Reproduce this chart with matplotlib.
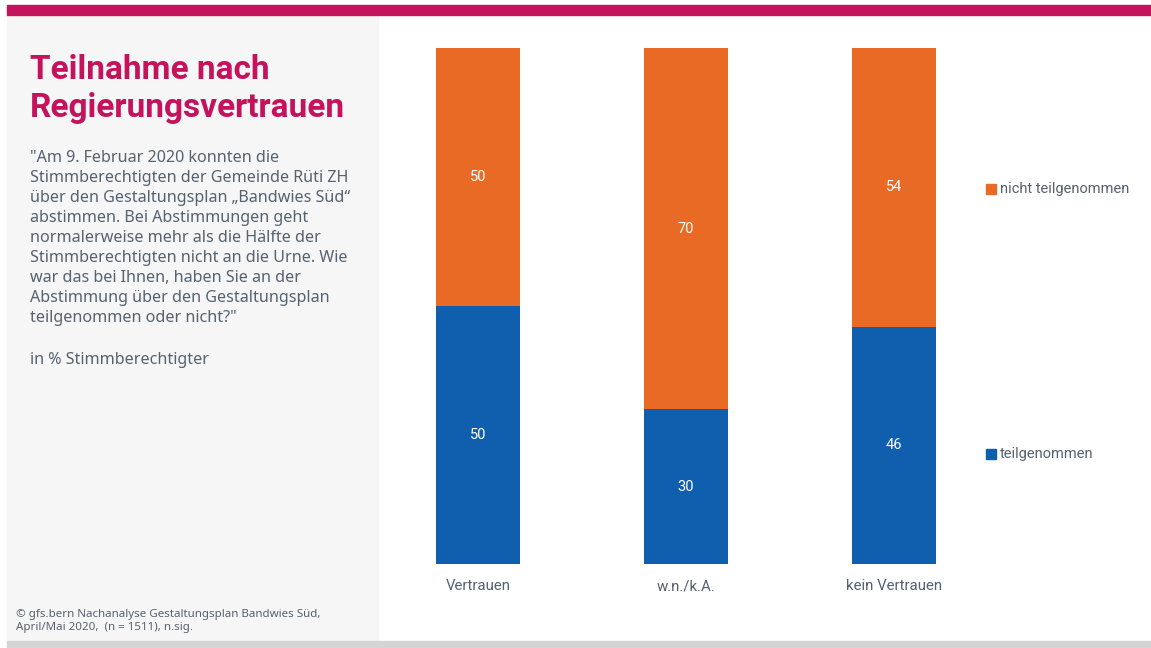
import matplotlib
matplotlib.use("Agg")
import matplotlib.pyplot as plt
from matplotlib.patches import Rectangle

plt.rcParams['font.family'] = ['Roboto', 'DejaVu Sans']

# survey results, in % of eligible voters
groups = ["Vertrauen", "w.n./k.A.", "kein Vertrauen"]
teilgenommen = [50, 30, 46]
nicht_teilgenommen = [50, 70, 54]
series_names = ["teilgenommen", "nicht teilgenommen"]

title = "Teilnahme nach\nRegierungsvertrauen"
question = ("\"Am 9. Februar 2020 konnten die\n"
            "Stimmberechtigten der Gemeinde Rüti ZH\n"
            "über den Gestaltungsplan \u201eBandwies Süd\u201c\n"
            "abstimmen. Bei Abstimmungen geht\n"
            "normalerweise mehr als die Hälfte der\n"
            "Stimmberechtigten nicht an die Urne. Wie\n"
            "war das bei Ihnen, haben Sie an der\n"
            "Abstimmung über den Gestaltungsplan\n"
            "teilgenommen oder nicht?\"")
unit = "in % Stimmberechtigter"
source = ("© gfs.bern Nachanalyse Gestaltungsplan Bandwies Süd,\n"
          "April/Mai 2020,  (n = 1511), n.sig.")

blue = "#0F5FAE"
orange = "#E96A25"
magenta = "#C4135C"
textgrey = "#556270"
body_font = ['Noto Sans', 'DejaVu Sans']

W, H = 1151, 648
fig = plt.figure(figsize=(W / 100, H / 100), dpi=100)
fig.patch.set_facecolor("white")

def px(x, y):
    return x / W, 1 - y / H

# frame: grey side panel, bottom strip, magenta band on top
fig.patches.append(Rectangle(px(7, 641), 371 / W, 626 / H, transform=fig.transFigure,
                             color="#F6F6F6", zorder=0))
fig.patches.append(Rectangle(px(7, 648), (W - 7) / W, 7 / H, transform=fig.transFigure,
                             color="#D4D4D4", zorder=0))
fig.patches.append(Rectangle(px(7, 15), (W - 7) / W, 10 / H, transform=fig.transFigure,
                             color=magenta, zorder=1))

fig.text(30 / W, 1 - 54 / H, title, color=magenta, fontsize=24, fontweight="bold",
         va="top", ha="left", linespacing=1.22)
fig.text(30 / W, 1 - 150 / H, question, color=textgrey, fontsize=11.6,
         family=body_font, va="top", ha="left", linespacing=1.33)
fig.text(30 / W, 1 - 352 / H, unit, color=textgrey, fontsize=11.6,
         family=body_font, va="top", ha="left")
fig.text(16 / W, 1 - 609 / H, source, color=textgrey, fontsize=8.3,
         family=body_font, va="top", ha="left", linespacing=1.3)

# stacked bars
ax = fig.add_axes([374 / W, 84 / H, 624 / W, 516 / H])
ax.set_facecolor("none")
pos = list(range(len(groups)))
ax.bar(pos, teilgenommen, width=0.4, color=blue, linewidth=0)
ax.bar(pos, nicht_teilgenommen, width=0.4, bottom=teilgenommen, color=orange, linewidth=0)
for i in pos:
    ax.text(i, teilgenommen[i] / 2, str(teilgenommen[i]), color="white",
            fontsize=10.5, ha="center", va="center")
    ax.text(i, teilgenommen[i] + nicht_teilgenommen[i] / 2, str(nicht_teilgenommen[i]),
            color="white", fontsize=10.5, ha="center", va="center")
ax.set_xlim(-0.5, 2.5)
ax.set_ylim(0, 100)
ax.set_xticks(pos)
ax.set_xticklabels(groups, color=textgrey, fontsize=10.8)
ax.tick_params(axis="x", length=0, pad=11)
ax.set_yticks([])
for s in ax.spines.values():
    s.set_visible(False)

# legend beside the last bar
leg_y = [21.3, 72.7]
for name, col, yv in zip(series_names, [blue, orange], leg_y):
    ax.plot([2.466], [yv], marker="s", markersize=7, color=col, clip_on=False)
    ax.text(2.51, yv, name, color=textgrey, fontsize=10.5, ha="left", va="center",
            clip_on=False)

fig.savefig("out.png", dpi=100)
